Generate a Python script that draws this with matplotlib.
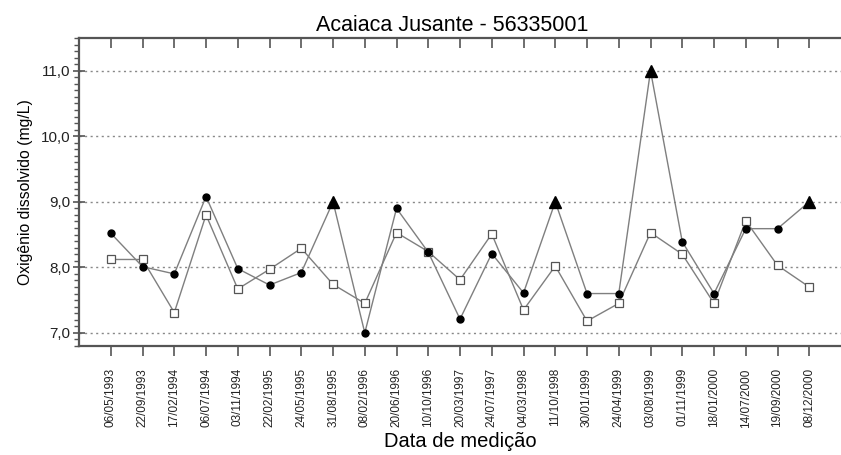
import numpy as np
import matplotlib.pyplot as plt
from matplotlib.ticker import MultipleLocator, FuncFormatter

plt.rcParams['font.family'] = ['Liberation Sans', 'DejaVu Sans']

### donnees ###

datas = ["06/05/1993", "22/09/1993", "17/02/1994", "06/07/1994", "03/11/1994",
         "22/02/1995", "24/05/1995", "31/08/1995", "08/02/1996", "20/06/1996",
         "10/10/1996", "20/03/1997", "24/07/1997", "04/03/1998", "11/10/1998",
         "30/01/1999", "24/04/1999", "03/08/1999", "01/11/1999", "18/01/2000",
         "14/07/2000", "19/09/2000", "08/12/2000"]

# serie 1 (ronds pleins + triangles pour les valeurs limites)
od_medido = [8.52, 8.01, 7.90, 9.08, 7.98, 7.73, 7.92, 9.0, 7.0, 8.90,
             8.23, 7.21, 8.21, 7.61, 9.0, 7.6, 7.6, 11.0, 8.39, 7.6,
             8.59, 8.59, 9.0]
limite = [7, 14, 17, 22]  # indices des triangles

# serie 2 (carres vides)
od_calc = [8.12, 8.12, 7.31, 8.80, 7.67, 7.97, 8.29, 7.74, 7.45, 8.53,
           8.24, 7.81, 8.51, 7.35, 8.02, 7.18, 7.45, 8.53, 8.20, 7.45,
           8.71, 8.03, 7.70]

### trace ###

x = np.arange(len(datas))
fig = plt.figure(figsize=(8.41, 4.55), dpi=100)
ax = fig.add_axes([0.094, 0.2396, 0.906, 0.677])

cinza = '#7f7f7f'
eixo = '#555555'

ax.plot(x, od_calc, '-', color=cinza, lw=1.0, marker='s', ms=5.5,
        mfc='white', mec='#555555', mew=0.9, zorder=3)
ax.plot(x, od_medido, '-', color=cinza, lw=1.0, zorder=3)
circ = [i for i in x if i not in limite]
ax.plot(circ, [od_medido[i] for i in circ], 'o', color='black', ms=5, ls='none', zorder=4)
ax.plot(limite, [od_medido[i] for i in limite], '^', color='black', ms=8, ls='none', zorder=4)

ax.set_xlim(-1, 23)
ax.set_ylim(6.8, 11.5)

ax.set_xticks(x)
ax.set_xticklabels(datas, rotation=90, fontsize=8.5, color='#222222')
ax.yaxis.set_major_locator(MultipleLocator(1.0))
ax.yaxis.set_minor_locator(MultipleLocator(0.1))
ax.yaxis.set_major_formatter(FuncFormatter(lambda v, p: ("%.1f" % v).replace('.', ',')))
ax.tick_params(axis='y', which='major', direction='inout', length=8, width=1.2,
               color=eixo, labelsize=11, labelcolor='#222222', pad=2)
ax.tick_params(axis='y', which='minor', direction='out', length=3.5, width=1.0, color=eixo)
ax.tick_params(axis='x', which='major', direction='out', length=7, width=1.2,
               color=eixo, top=True, pad=9)
for t in ax.xaxis.get_major_ticks():
    t.tick2line.set_marker(3)  # tick du haut vers l'interieur
    t.tick2line.set_markersize(7)

ax.grid(axis='y', which='major', ls=(0, (1.5, 2.5)), color='#888888', lw=1.0)
ax.set_axisbelow(True)

for s in ['left', 'top', 'bottom']:
    ax.spines[s].set_color(eixo)
    ax.spines[s].set_linewidth(1.6)
ax.spines['right'].set_visible(False)

ax.set_title("Acaiaca Jusante - 56335001", fontsize=15.5, pad=5, x=0.49)
ax.set_xlabel("Data de medição", fontsize=14.5, labelpad=3)
ax.set_ylabel("Oxigênio dissolvido (mg/L)", fontsize=11.3, labelpad=6)

plt.savefig("out.png", dpi=100)
